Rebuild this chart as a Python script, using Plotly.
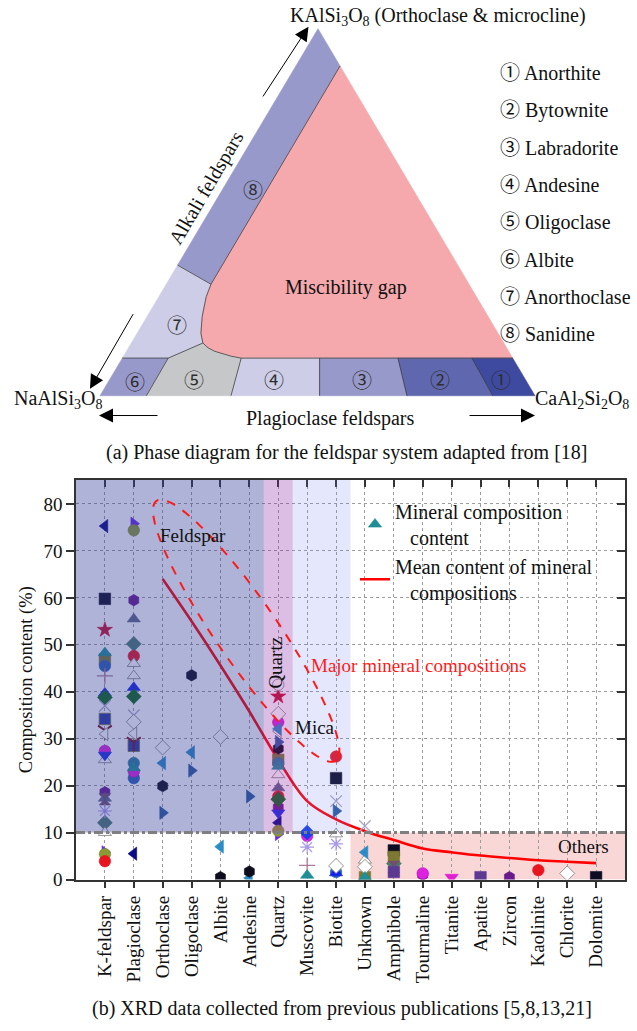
import math
import plotly.graph_objects as go

# ---------------- page geometry ----------------
FIG_W, FIG_H = 637, 1031
PLOT_L, PLOT_R, PLOT_T, PLOT_B = 76, 625, 485, 889   # XRD panel, in page pixels
DIAG_H = 470                                         # height of the phase-diagram panel
X_MIN, X_MAX = -1, 18
Y_MAX = 85.15
SERIF = "Liberation Serif, Times New Roman, Noto Sans CJK SC, serif"

# ---------------- XRD data ----------------
categories = ["K-feldspar", "Plagioclase", "Orthoclase", "Oligoclase", "Albite",
              "Andesine", "Quartz", "Muscovite", "Biotite", "Unknown", "Amphibole",
              "Tourmaline", "Titanite", "Apatite", "Zircon", "Kaolinite",
              "Chlorite", "Dolomite"]

_ = None
#                    Kf    Pl    Or    Ol    Ab    An    Qz    Ms    Bt    Un    Amp   Tur   Tit   Ap    Zr    Kao   Chl   Dol
navy_tri_left    = [75.3,  5.5,  _,    _,    _,    _,    12.1, _,    _,    _,    _,    _,    _,    _,    _,    _,    _,    _]
violet_tri_right = [5.8,   75.8, _,    _,    _,    _,    9.7,  _,    _,    _,    5.9,  _,    _,    _,    _,    _,    _,    _]
olive_circle     = [5.4,   74.4, _,    _,    _,    _,    10.4, _,    _,    _,    5.6,  _,    _,    _,    _,    _,    _,    _]
black_square     = [59.8,  _,    _,    _,    _,    _,    _,    _,    21.6, _,    6.2,  _,    _,    _,    _,    _,    _,    0.5]
purple_hexagon   = [18.6,  59.5, _,    _,    _,    _,    15.4, _,    _,    _,    _,    1.0,  _,    _,    0.5,  _,    _,    _]
crimson_star     = [53.2,  _,    _,    _,    _,    _,    39.0, _,    _,    _,    _,    _,    _,    _,    _,    _,    _,    _]
slate_tri_up     = [17.3,  55.5, _,    _,    _,    _,    19.5, _,    _,    _,    _,    _,    _,    _,    _,    _,    _,    _]
sage_diamond     = [12.1,  50.2, _,    _,    _,    _,    _,    _,    _,    _,    3.4,  _,    _,    _,    _,    _,    _,    _]
red_circle       = [3.9,   47.6, _,    _,    _,    _,    17.7, _,    26.2, _,    _,    _,    _,    _,    _,    2.0,  _,    _]
olive_square     = [46.9,  _,    _,    _,    _,    _,    25.5, _,    _,    0.5,  4.8,  _,    _,    _,    _,    _,    _,    _]
blue_circle      = [45.5,  21.6, _,    _,    _,    _,    _,    _,    1.6,  _,    _,    _,    _,    _,    _,    _,    _,    _]
open_tri_up_a    = [25.5,  46.0, _,    _,    _,    _,    22.3, _,    9.7,  4.1,  _,    _,    _,    _,    _,    _,    _,    _]
open_tri_up_b    = [10.0,  43.4, _,    _,    _,    _,    _,    _,    _,    _,    _,    _,    _,    _,    _,    _,    _,    _]
blue_tri_up      = [39.7,  40.9, _,    _,    _,    _,    _,    _,    1.4,  _,    _,    _,    _,    _,    _,    _,    _,    _]
green_diamond    = [38.8,  39.0, _,    _,    _,    _,    17.1, _,    _,    _,    _,    _,    _,    _,    _,    _,    _,    _]
grey_x           = [37.0,  35.0, _,    _,    _,    _,    _,    _,    16.7, 11.4, _,    _,    _,    _,    _,    _,    _,    _]
royal_square     = [34.2,  28.5, _,    _,    _,    _,    _,    _,    _,    _,    _,    _,    _,    _,    _,    _,    _,    _]
maroon_tri_down  = [31.8,  29.3, _,    _,    _,    _,    _,    _,    _,    _,    _,    _,    _,    _,    _,    _,    _,    _]
open_tri_left    = [31.0,  31.1, _,    _,    _,    _,    31.6, _,    _,    _,    _,    _,    _,    _,    _,    _,    _,    _]
magenta_circle   = [27.4,  23.0, _,    _,    _,    _,    33.5, 9.3,  _,    _,    _,    1.3,  _,    _,    _,    _,    _,    _]
blue_tri_down    = [26.5,  _,    _,    _,    _,    _,    14.2, _,    _,    _,    _,    _,    _,    _,    _,    _,    _,    _]
mauve_hourglass  = [17.1,  _,    _,    _,    _,    _,    _,    _,    _,    _,    2.7,  _,    _,    _,    _,    _,    _,    _]
lilac_asterisk   = [14.6,  _,    _,    _,    _,    _,    _,    6.9,  7.6,  _,    _,    _,    _,    _,    _,    _,    _,    _]
open_diamond     = [_,     33.6, 28.1, _,    30.4, _,    35.3, _,    2.9,  2.7,  _,    _,    _,    _,    _,    _,    1.3,  _]
steel_tri_left   = [_,     _,    24.8, 27.1, 7.0,  0.3,  32.1, _,    _,    5.8,  _,    _,    _,    _,    _,    _,    _,    _]
black_hexagon    = [_,     _,    19.9, 43.5, 0.5,  1.7,  27.9, _,    _,    _,    _,    _,    _,    _,    _,    _,    _,    _]
steel_tri_right  = [_,     _,    14.2, 23.2, _,    17.7, 29.3, _,    14.6, _,    _,    _,    _,    _,    _,    _,    _,    _]
teal_circle      = [_,     24.8, _,    _,    _,    _,    24.8, _,    _,    _,    _,    _,    _,    _,    _,    _,    _,    _]
blue_diamond     = [_,     _,    _,    _,    _,    _,    _,    10.0, _,    _,    _,    _,    _,    _,    _,    _,    _,    _]
mauve_plus       = [43.4,  _,    _,    _,    _,    _,    _,    3.0,  _,    _,    _,    _,    _,    _,    _,    _,    _,    _]
magenta_tri_down = [_,     _,    _,    _,    _,    _,    _,    _,    _,    _,    _,    _,    0.5,  _,    _,    _,    _,    _]
indigo_square    = [_,     _,    _,    _,    _,    _,    _,    _,    _,    _,    1.6,  _,    _,    0.5,  _,    _,    _,    _]
open_circle      = [_,     _,    _,    _,    _,    _,    41.5, _,    _,    _,    _,    _,    _,    _,    _,    _,    _,    _]
teal_tri_up      = [48.3,  23.8, _,    _,    _,    _,    24.1, 0.9,  _,    0.5,  _,    _,    _,    _,    _,    _,    _,    _]

# mean content along the feldspar -> accessory minerals sequence
mean_categories = categories[2:]
mean_content = [64.0, 55.0, 45.6, 35.8, 25.5, 16.7, 12.8, 10.3, 8.4, 6.6,
                5.8, 5.1, 4.6, 4.1, 3.8, 3.5]

# marker styles: symbol, fill colour, outline colour, outline width
WHITE, EDGE = "#ffffff", "#8a8a8a"
styles = {
    "navy_tri_left":    ("triangle-left", "#0b0b86", "#0b0b86", 0.6),
    "violet_tri_right": ("triangle-right", "#6a2ae6", "#6a2ae6", 0.6),
    "olive_circle":     ("circle", "#8c9a34", "#7a8a2a", 0.6),
    "black_square":     ("square", "#0c0c22", "#0c0c22", 0.6),
    "purple_hexagon":   ("hexagon", "#6a1a8c", "#6a1a8c", 0.6),
    "crimson_star":     ("star", "#c8102e", "#c8102e", 0.6),
    "slate_tri_up":     ("triangle-up", "#5e6688", "#5e6688", 0.6),
    "sage_diamond":     ("diamond", "#4a7a6e", "#4a7a6e", 0.6),
    "red_circle":       ("circle", "#e8141e", "#e8141e", 0.6),
    "olive_square":     ("square", "#7c7a32", "#7c7a32", 0.6),
    "blue_circle":      ("circle", "#2a62b6", "#2a62b6", 0.6),
    "open_tri_up_a":    ("triangle-up", WHITE, EDGE, 0.9),
    "open_tri_up_b":    ("triangle-up", WHITE, EDGE, 0.9),
    "blue_tri_up":      ("triangle-up", "#1424e6", "#1424e6", 0.6),
    "green_diamond":    ("diamond", "#0e6a1c", "#0e6a1c", 0.6),
    "grey_x":           ("x-thin", "#b0b0c8", "#a8a8c4", 1.3),
    "royal_square":     ("square", "#2a3aa2", "#7a7a40", 0.8),
    "maroon_tri_down":  ("y-down", "#7e1020", "#7e1020", 2.0),
    "open_tri_left":    ("triangle-left", WHITE, EDGE, 0.9),
    "magenta_circle":   ("circle", "#e020e0", "#b010b0", 0.6),
    "blue_tri_down":    ("triangle-down", "#1a30e6", "#1a30e6", 0.6),
    "mauve_hourglass":  ("hourglass", "#705070", "#705070", 0.6),
    "lilac_asterisk":   ("asterisk", "#a898e8", "#a898e8", 1.2),
    "open_diamond":     ("diamond", WHITE, EDGE, 0.9),
    "steel_tri_left":   ("triangle-left", "#2a8cc4", "#2a8cc4", 0.6),
    "black_hexagon":    ("hexagon", "#0c0c1c", "#0c0c1c", 0.6),
    "steel_tri_right":  ("triangle-right", "#2a5c9e", "#2a5c9e", 0.6),
    "teal_circle":      ("circle", "#2a7c9c", "#2a7c9c", 0.6),
    "blue_diamond":     ("diamond", "#1a40e6", "#1a40e6", 0.6),
    "mauve_plus":       ("cross-thin", "#b07a9a", "#b07a9a", 1.3),
    "magenta_tri_down": ("triangle-down", "#e020d0", "#e020d0", 0.6),
    "indigo_square":    ("square", "#5c3a92", "#5c3a92", 0.6),
    "open_circle":      ("circle", WHITE, EDGE, 0.9),
    "teal_tri_up":      ("triangle-up", "#1f8e96", "#1f8e96", 0.6),
}
series = {name: globals()[name] for name in styles}

fig = go.Figure()

# ================= (a) feldspar phase diagram =================
# The diagram lives on its own axes (x3/y3) measured in page pixels, y downward.
APEX, LEFT, RIGHT = (318, 29), (100, 400), (535, 400)
STRIP_TOP = 362          # top of the plagioclase strip
MISC_TOP = 66.7          # where the miscibility gap meets the right edge
SAN_LOW = 268            # lower end of the sanidine band on the left edge


def left_x(y):
    return LEFT[0] + (LEFT[1] - y) * (APEX[0] - LEFT[0]) / (LEFT[1] - APEX[1])


def right_x(y):
    return RIGHT[0] - (RIGHT[1] - y) * (RIGHT[0] - APEX[0]) / (RIGHT[1] - APEX[1])


P1 = (right_x(MISC_TOP), MISC_TOP)
P2 = (211, 287.3)
P3 = (left_x(SAN_LOW), SAN_LOW)
gap_curve_a = [(211, 287.3), (206.2, 300), (202.2, 320), (200.9, 336.7), (202.9, 346.7)]
gap_curve_b = [(202.9, 346.7), (208, 351.5), (214.4, 355), (231, 360), (241.2, STRIP_TOP)]
S = (168.2, STRIP_TOP)
E7 = (left_x(STRIP_TOP), STRIP_TOP)
B = [(146.4, 400), (231, 400), (319.6, 400), (407, 400), (492.8, 400)]
T = [(241.2, STRIP_TOP), (319.6, STRIP_TOP), (398, STRIP_TOP), (472, STRIP_TOP)]
E1 = (right_x(STRIP_TOP), STRIP_TOP)

C_MID, C_LIGHT, C_PINK = "#9899cb", "#cdcde8", "#f5a9ad"
regions = [
    ([APEX, P1, P2, P3], C_MID),                                             # 8 sanidine
    ([P3, *gap_curve_a, S, E7], C_LIGHT),                                    # 7 anorthoclase
    ([P1, *gap_curve_a, *gap_curve_b[1:], E1], C_PINK),                      # miscibility gap
    ([E7, S, B[0], LEFT], C_MID),                                            # 6 albite
    ([S, *gap_curve_b, B[1], B[0]], "#c6c7c9"),                              # 5 oligoclase
    ([T[0], T[1], B[2], B[1]], C_LIGHT),                                     # 4 andesine
    ([T[1], T[2], B[3], B[2]], C_MID),                                       # 3 labradorite
    ([T[2], T[3], B[4], B[3]], "#5f67ae"),                                   # 2 bytownite
    ([T[3], E1, RIGHT, B[4]], "#3e4aa0"),                                    # 1 anorthite
]
for pts, col in regions:
    xs = [p[0] for p in pts] + [pts[0][0]]
    ys = [p[1] for p in pts] + [pts[0][1]]
    fig.add_trace(go.Scatter(x=xs, y=ys, mode="lines", fill="toself", fillcolor=col,
                             line=dict(width=0.6, color=col), xaxis="x3", yaxis="y3",
                             hoverinfo="skip", showlegend=False))

boundaries = [
    [P1, P2], [P3, P2], gap_curve_a, [gap_curve_a[-1], S], [E7, S],
    gap_curve_b, [T[0], E1], [S, B[0]], [T[0], B[1]], [T[1], B[2]],
    [T[2], B[3]], [T[3], B[4]],
]
for seg in boundaries:
    fig.add_trace(go.Scatter(x=[p[0] for p in seg], y=[p[1] for p in seg], mode="lines",
                             line=dict(width=0.8, color="#3c3c3c"), xaxis="x3", yaxis="y3",
                             hoverinfo="skip", showlegend=False))

circled = ["\u2460", "\u2461", "\u2462", "\u2463", "\u2464", "\u2465", "\u2466", "\u2467"]
feldspar_names = ["Anorthite", "Bytownite", "Labradorite", "Andesine",
                  "Oligoclase", "Albite", "Anorthoclase", "Sanidine"]
region_label_pos = [(501, 385), (440.4, 385), (362, 385), (274, 385),
                    (193.8, 385), (135, 386.7), (176.5, 329.3), (252.8, 192.7)]

annotations = []


def diag_text(x, y, text, size=20, color="#111111", angle=0, anchor="center"):
    annotations.append(dict(x=x, y=y, xref="x3", yref="y3", text=text, showarrow=False,
                            textangle=angle, xanchor=anchor, yanchor="middle",
                            font=dict(family=SERIF, size=size, color=color)))


for sym, (x, y) in zip(circled, region_label_pos):
    diag_text(x, y, sym, size=20, color="#2e2e2e")
for i, (sym, name) in enumerate(zip(circled, feldspar_names)):
    diag_text(498, 74 + i * 37.7, f"{sym} {name}", size=20, anchor="left")

diag_text(345.6, 290.7, "Miscibility gap")
diag_text(438, 16.5, "KAlSi<sub>3</sub>O<sub>8</sub> (Orthoclase &amp; microcline)")
diag_text(58, 404, "NaAlSi<sub>3</sub>O<sub>8</sub>")
diag_text(582, 404, "CaAl<sub>2</sub>Si<sub>2</sub>O<sub>8</sub>")
diag_text(330, 423, "Plagioclase feldspars")
diag_text(206, 190.5, "Alkali feldspars", angle=-59.6)
diag_text(347, 457, "(a) Phase diagram for the feldspar system adapted from [18]")

for head, tail in [((308.5, 27), (262, 99)), ((90, 393), (134, 316)),
                   ((99, 420), (159, 420)), ((535, 420), (468, 420))]:
    annotations.append(dict(x=head[0], y=head[1], ax=tail[0], ay=tail[1],
                            xref="x3", yref="y3", axref="x3", ayref="y3", text="",
                            showarrow=True, arrowhead=2, arrowsize=2.8, arrowwidth=1,
                            arrowcolor="#000000", standoff=0))

# ================= (b) XRD mineral compositions =================
plot_w, plot_h = PLOT_R - PLOT_L, PLOT_B - PLOT_T
px_x = plot_w / (X_MAX - X_MIN)
px_y = plot_h / Y_MAX

shapes = [
    # shaded groups: feldspar, quartz, mica (above 10 %) and the minor minerals (below 10 %)
    dict(type="rect", xref="x", yref="y", x0=8.5, x1=X_MAX, y0=0, y1=10,
         fillcolor="rgba(225,40,40,0.19)", line=dict(width=0), layer="below"),
    dict(type="rect", xref="x", yref="y", x0=X_MIN, x1=5.5, y0=10, y1=Y_MAX,
         fillcolor="rgba(56,66,158,0.40)", line=dict(width=0), layer="above"),
    dict(type="rect", xref="x", yref="y", x0=5.5, x1=6.5, y0=10, y1=Y_MAX,
         fillcolor="rgba(140,40,170,0.30)", line=dict(width=0), layer="above"),
    dict(type="rect", xref="x", yref="y", x0=6.5, x1=8.5, y0=10, y1=Y_MAX,
         fillcolor="rgba(110,120,240,0.18)", line=dict(width=0), layer="above"),
    dict(type="line", xref="x", yref="y", x0=X_MIN, x1=X_MAX, y0=10, y1=10,
         line=dict(color="#7f7f7f", width=3, dash="dashdot"), layer="above"),
]

# dashed envelope around the major mineral compositions (ellipse sized in screen pixels)
ell_cx, ell_cy = 4.89, 53.0            # centre in data units
ell_a, ell_b, ell_deg = 159, 31, 55.7  # semi-axes in px, tilt below horizontal
ca, sa = math.cos(math.radians(ell_deg)), math.sin(math.radians(ell_deg))
pts = []
for k in range(121):
    t = 2 * math.pi * k / 120
    u, v = ell_a * math.cos(t), ell_b * math.sin(t)
    dx_px, dy_px = u * ca - v * sa, u * sa + v * ca      # screen px, y downward
    pts.append((ell_cx + dx_px / px_x, ell_cy - dy_px / px_y))
path = "M " + " L ".join(f"{x:.4f},{y:.4f}" for x, y in pts) + " Z"
shapes.append(dict(type="path", xref="x", yref="y", path=path,
                   line=dict(color="#ff1a1a", width=2, dash="dash"), layer="above"))

# mean-content curve
fig.add_trace(go.Scatter(x=mean_categories, y=mean_content, mode="lines",
                         line=dict(color="#ff0000", width=2.6, shape="spline", smoothing=1.0),
                         name="Mean content of mineral<br>\u00a0\u00a0\u00a0compositions",
                         legendrank=2, hoverinfo="skip"))

# individual XRD results
for name, (symbol, fill, edge, lw) in styles.items():
    vals = series[name]
    xs = [c for c, v in zip(categories, vals) if v is not None]
    ys = [v for v in vals if v is not None]
    is_legend = name == "teal_tri_up"
    fig.add_trace(go.Scatter(
        x=xs, y=ys, mode="markers",
        marker=dict(symbol=symbol, size=11.5, color=fill, line=dict(color=edge, width=lw)),
        name="Mineral composition<br>\u00a0\u00a0\u00a0content" if is_legend else name,
        showlegend=is_legend, legendrank=1, hoverinfo="skip"))

# empty companion trace that carries the inward mirror ticks (top and right)
fig.add_trace(go.Scatter(x=[None], y=[None], xaxis="x2", yaxis="y2",
                         showlegend=False, hoverinfo="skip"))


def chart_text(x, y, text, color="#111111", angle=0, size=19):
    annotations.append(dict(x=x, y=y, xref="x", yref="y", text=text, showarrow=False,
                            textangle=angle, xanchor="center", yanchor="middle",
                            font=dict(family=SERIF, size=size, color=color)))


chart_text(3.04, 73.2, "Feldspar")
chart_text(5.92, 46.2, "Quartz", angle=-90)
chart_text(7.27, 32.3, "Mica")
chart_text(10.87, 45.5, "Major mineral compositions", color="#ff1a1a")
chart_text(16.55, 7.0, "Others")

annotations.append(dict(x=342 / FIG_W, y=1 - 1019 / FIG_H, xref="paper", yref="paper",
                        xanchor="center", yanchor="middle",
                        text="(b) XRD data collected from previous publications [5,8,13,21]",
                        showarrow=False, font=dict(family=SERIF, size=20, color="#111111")))

x_dom = [PLOT_L / FIG_W, PLOT_R / FIG_W]
y_dom = [1 - PLOT_B / FIG_H, 1 - PLOT_T / FIG_H]
AXIS_COL = "#333333"
GRID = dict(showgrid=True, gridcolor="#9c9c9c", griddash="dot", gridwidth=1)

fig.update_layout(
    width=FIG_W, height=FIG_H, margin=dict(l=0, r=0, t=0, b=0),
    paper_bgcolor="#ffffff", plot_bgcolor="#ffffff",
    font=dict(family=SERIF, size=19, color="#111111"),
    shapes=shapes, annotations=annotations,
    xaxis=dict(domain=x_dom, type="category", categoryorder="array",
               categoryarray=categories, range=[X_MIN, X_MAX], tickangle=-90,
               ticks="outside", ticklen=7, tickwidth=1.5, tickcolor=AXIS_COL,
               showline=True, linecolor=AXIS_COL, linewidth=1.5, mirror=True,
               tickfont=dict(family=SERIF, size=19), anchor="y", zeroline=False, **GRID),
    yaxis=dict(domain=y_dom, range=[0, Y_MAX], tickvals=list(range(0, 81, 10)),
               ticks="outside", ticklen=8, tickwidth=1.5, tickcolor=AXIS_COL,
               showline=True, linecolor=AXIS_COL, linewidth=1.5, mirror=True,
               tickfont=dict(family=SERIF, size=19), zeroline=False, anchor="x",
               title=dict(text="Composition content (%)", standoff=6,
                          font=dict(family=SERIF, size=18.5)), **GRID),
    xaxis2=dict(overlaying="x", side="top", anchor="y", range=[X_MIN, X_MAX],
                tickvals=list(range(len(categories))), ticks="inside", ticklen=7,
                tickwidth=1.5, tickcolor=AXIS_COL, showticklabels=False,
                showgrid=False, zeroline=False, showline=False),
    yaxis2=dict(overlaying="y", side="right", anchor="x", range=[0, Y_MAX],
                tickvals=list(range(0, 81, 10)), ticks="inside", ticklen=8,
                tickwidth=1.5, tickcolor=AXIS_COL, showticklabels=False,
                showgrid=False, zeroline=False, showline=False),
    xaxis3=dict(domain=[0, 1], range=[0, FIG_W], visible=False, anchor="y3",
                fixedrange=True),
    yaxis3=dict(domain=[1 - DIAG_H / FIG_H, 1], range=[DIAG_H, 0], visible=False,
                anchor="x3", fixedrange=True),
    legend=dict(x=355 / FIG_W, y=1 - 497 / FIG_H, xanchor="left", yanchor="top",
                bgcolor="rgba(0,0,0,0)", borderwidth=0, traceorder="normal",
                font=dict(family=SERIF, size=20, color="#111111")),
    showlegend=True,
)

fig.write_html("out.html")
